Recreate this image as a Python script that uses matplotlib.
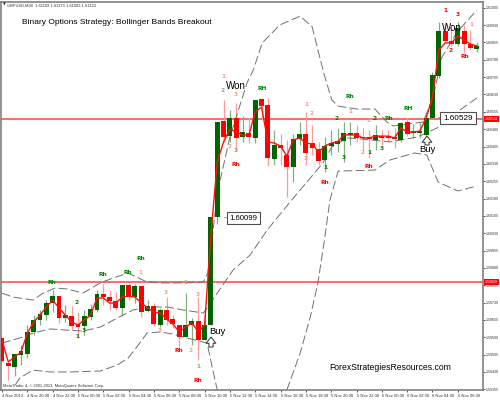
import matplotlib
matplotlib.use("Agg")
import matplotlib.pyplot as plt

plt.rcParams["font.family"] = "Liberation Sans"

# candles, oldest first (M30 bars)
opens = [1.59577, 1.59469, 1.59451, 1.59503, 1.59508, 1.59603, 1.59655, 1.59676, 1.59728, 1.59758,
         1.59663, 1.59672, 1.59637, 1.59629, 1.59668, 1.59698, 1.59767, 1.59754, 1.59737, 1.59707,
         1.59806, 1.59754, 1.59802, 1.59694, 1.59715, 1.59633, 1.59698, 1.59659, 1.59633, 1.59581,
         1.59633, 1.59650, 1.59568, 1.59633, 1.60100, 1.60515, 1.60450, 1.60528, 1.60446, 1.60463,
         1.60442, 1.60611, 1.60585, 1.60351, 1.60412, 1.60368, 1.60316, 1.60437, 1.60459, 1.60420,
         1.60394, 1.60347, 1.60407, 1.60416, 1.60429, 1.60455, 1.60463, 1.60446, 1.60446, 1.60433,
         1.60450, 1.60450, 1.60446, 1.60433, 1.60511, 1.60463, 1.60463, 1.60455, 1.60528, 1.60710,
         1.60905, 1.60861, 1.60848, 1.60905, 1.60848, 1.60827]
closes = [1.59477, 1.59456, 1.59508, 1.59521, 1.59603, 1.59655, 1.59681, 1.59728, 1.59758, 1.59663,
          1.59676, 1.59629, 1.59624, 1.59672, 1.59702, 1.59767, 1.59754, 1.59737, 1.59707, 1.59806,
          1.59754, 1.59802, 1.59689, 1.59715, 1.59637, 1.59698, 1.59655, 1.59637, 1.59581, 1.59633,
          1.59650, 1.59568, 1.59633, 1.60100, 1.60511, 1.60446, 1.60528, 1.60442, 1.60468, 1.60446,
          1.60606, 1.60580, 1.60355, 1.60412, 1.60399, 1.60316, 1.60437, 1.60459, 1.60377, 1.60399,
          1.60342, 1.60407, 1.60420, 1.60429, 1.60463, 1.60463, 1.60442, 1.60442, 1.60437, 1.60455,
          1.60442, 1.60442, 1.60437, 1.60507, 1.60459, 1.60472, 1.60472, 1.60528, 1.60714, 1.60905,
          1.60861, 1.60848, 1.60918, 1.60848, 1.60831, 1.60840]
highs = [1.59577, 1.59469, 1.59508, 1.59547, 1.59633, 1.59676, 1.59698, 1.59741, 1.59784, 1.59758,
         1.59720, 1.59715, 1.59689, 1.59698, 1.59724, 1.59784, 1.59810, 1.59784, 1.59776, 1.59806,
         1.59815, 1.59810, 1.59802, 1.59741, 1.59728, 1.59707, 1.59754, 1.59676, 1.59633, 1.59771,
         1.59663, 1.59754, 1.59698, 1.60100, 1.60511, 1.60606, 1.60563, 1.60593, 1.60537, 1.60528,
         1.60606, 1.60615, 1.60615, 1.60476, 1.60459, 1.60433, 1.60459, 1.60511, 1.60554, 1.60498,
         1.60425, 1.60446, 1.60476, 1.60485, 1.60511, 1.60511, 1.60498, 1.60485, 1.60476, 1.60498,
         1.60476, 1.60476, 1.60485, 1.60511, 1.60528, 1.60502, 1.60511, 1.60537, 1.60727, 1.60944,
         1.60944, 1.60918, 1.60944, 1.60931, 1.60909, 1.60857]
lows = [1.59473, 1.59395, 1.59412, 1.59460, 1.59490, 1.59590, 1.59633, 1.59655, 1.59689, 1.59642,
        1.59646, 1.59611, 1.59577, 1.59590, 1.59655, 1.59689, 1.59720, 1.59698, 1.59698, 1.59672,
        1.59741, 1.59728, 1.59668, 1.59689, 1.59629, 1.59624, 1.59633, 1.59620, 1.59538, 1.59581,
        1.59547, 1.59482, 1.59568, 1.59633, 1.60070, 1.60425, 1.60425, 1.60390, 1.60425, 1.60420,
        1.60420, 1.60520, 1.60321, 1.60325, 1.60325, 1.60187, 1.60251, 1.60412, 1.60325, 1.60368,
        1.60325, 1.60295, 1.60368, 1.60381, 1.60338, 1.60412, 1.60425, 1.60390, 1.60355, 1.60390,
        1.60412, 1.60425, 1.60399, 1.60425, 1.60450, 1.60442, 1.60442, 1.60442, 1.60528, 1.60701,
        1.60857, 1.60840, 1.60840, 1.60810, 1.60822, 1.60814]
# red moving average
ma = [1.59568, 1.59473, 1.59495, 1.59516, 1.59598, 1.59646, 1.59676, 1.59711, 1.59741, 1.59707,
      1.59676, 1.59646, 1.59633, 1.59655, 1.59676, 1.59750, 1.59750, 1.59728, 1.59728, 1.59754,
      1.59758, 1.59754, 1.59728, 1.59707, 1.59689, 1.59685, 1.59659, 1.59637, 1.59603, 1.59624,
      1.59642, 1.59603, 1.59633, 1.60022, 1.60338, 1.60425, 1.60481, 1.60468, 1.60455, 1.60455,
      1.60554, 1.60576, 1.60425, 1.60420, 1.60407, 1.60364, 1.60433, 1.60442, 1.60420, 1.60416,
      1.60381, 1.60407, 1.60420, 1.60425, 1.60455, 1.60455, 1.60455, 1.60442, 1.60442, 1.60450,
      1.60450, 1.60450, 1.60442, 1.60485, 1.60468, 1.60468, 1.60472, 1.60528, 1.60619, 1.60822,
      1.60853, 1.60853, 1.60883, 1.60866, 1.60848, 1.60840]

# bollinger bands, read at the bends only
upper_i = [0, 1.7, 4.9, 6.5, 8.4, 10.3, 12.8, 15.5, 17.5, 19.9, 22.9, 25, 28.9, 31.8, 32.5, 33.3, 34, 36,
           38.7, 39.7, 41.1, 43.9, 47.1, 49, 49.9, 51, 52.1, 53.1, 56.1, 58.9, 60.8, 61.8, 64, 66.5,
           68.1, 69.5, 71.9, 75]
upper_p = [1.59771, 1.59754, 1.59741, 1.59771, 1.59793, 1.59789, 1.59771, 1.59815, 1.59836, 1.59858,
           1.59819, 1.59815, 1.59815, 1.59819, 1.59858, 1.60031, 1.60204, 1.60446, 1.60680, 1.60736,
           1.60853, 1.60931, 1.60969, 1.60922, 1.60822, 1.60706, 1.60606, 1.60580, 1.60567, 1.60567,
           1.60511, 1.60494, 1.60502, 1.60511, 1.60619, 1.60792, 1.60900, 1.60995]
middle_i = [0, 2.8, 4.9, 7.6, 10.3, 12.8, 15.5, 18.2, 20.7, 23.4, 26.1, 28.6, 31.8, 32.5, 34, 36.5, 39.2,
            41.9, 45.5, 48.7, 50.7, 52.1, 54.5, 57, 61.3, 65.6, 68.7, 72.8, 75]
middle_p = [1.59555, 1.59577, 1.59598, 1.59616, 1.59611, 1.59607, 1.59624, 1.59663, 1.59698, 1.59711,
            1.59711, 1.59698, 1.59685, 1.59711, 1.59771, 1.59871, 1.59936, 1.60044, 1.60165, 1.60269,
            1.60334, 1.60403, 1.60442, 1.60437, 1.60425, 1.60446, 1.60485, 1.60572, 1.60615]
lower_i = [2.1, 2.8, 4.9, 7.6, 10.7, 15.5, 18.2, 19.9, 21.3, 22.9, 25, 27, 29.2, 32.4, 33.3, 34, 39.2, 45,
           47.1, 48.7, 49.9, 51, 51.8, 53.1, 58.9, 61.3, 65.2, 67.1, 68.9, 72, 75]
lower_p = [1.59374, 1.59404, 1.59438, 1.59430, 1.59430, 1.59434, 1.59460, 1.59490, 1.59538, 1.59598,
           1.59603, 1.59594, 1.59577, 1.59555, 1.59438, 1.59352, 1.59006, 1.59352, 1.59512, 1.59668,
           1.59815, 1.60014, 1.60174, 1.60299, 1.60303, 1.60347, 1.60377, 1.60368, 1.60251, 1.60213,
           1.60234]

red_levels = [1.60524, 1.59819]
price_ticks = [1.61005, 1.60930, 1.60855, 1.60780, 1.60705, 1.60630, 1.60555, 1.60480, 1.60405, 1.60330,
               1.60255, 1.60180, 1.60105, 1.60030, 1.59955, 1.59880, 1.59805, 1.59730, 1.59655, 1.59580,
               1.59505, 1.59430, 1.59355]
time_labels = ["4 Nov 2013", "4 Nov 20:30", "4 Nov 22:30", "5 Nov 00:30", "5 Nov 02:30", "5 Nov 04:30",
               "5 Nov 06:30", "5 Nov 08:30", "5 Nov 10:30", "5 Nov 12:30", "5 Nov 14:30", "5 Nov 16:30",
               "5 Nov 18:30", "5 Nov 20:30", "5 Nov 22:30", "6 Nov 00:30", "6 Nov 02:30", "6 Nov 04:30",
               "6 Nov 06:30"]

SALMON = "#f0a080"
LGREEN = "#80b080"
RED = "#ff0000"
DGREEN = "#008000"
# little signal labels: text, x px, y px, colour
signals = [("1", 223, 76, SALMON), ("2", 223, 90, LGREEN), ("3", 236, 94, SALMON), ("2", 230, 146, SALMON),
           ("3", 236, 150, LGREEN), ("Rh", 236, 165, RED), ("RH", 262, 88, DGREEN), ("Rh", 350, 96, DGREEN),
           ("1", 350, 111, SALMON), ("1", 306, 105, SALMON), ("2", 312, 114, SALMON), ("2", 337, 119, DGREEN),
           ("2", 369, 120, SALMON), ("2", 375, 118, DGREEN), ("Rh", 389, 118, DGREEN), ("RH", 408, 108, DGREEN),
           ("2", 306, 159, SALMON), ("2", 363, 152, SALMON), ("1", 369, 152, DGREEN), ("3", 382, 148, DGREEN),
           ("3", 344, 157, DGREEN), ("1", 325, 168, DGREEN), ("Rh", 325, 183, RED), ("Rh", 369, 167, RED),
           ("1", 445, 11, RED), ("3", 458, 14, RED), ("1", 471, 25, SALMON), ("2", 451, 50, RED),
           ("Rh", 465, 57, RED), ("Rh", 141, 258, DGREEN), ("Rh", 103, 274, DGREEN), ("Rh", 128, 273, DGREEN),
           ("Rh", 52, 282, DGREEN), ("1", 140, 272, SALMON), ("2", 77, 302, DGREEN), ("3", 166, 292, SALMON),
           ("3", 198, 294, SALMON), ("1", 185, 282, SALMON), ("3", 84, 330, DGREEN), ("1", 77, 337, DGREEN),
           ("3", 160, 330, SALMON), ("Rh", 179, 351, RED), ("2", 191, 350, SALMON), ("1", 198, 366, LGREEN),
           ("Rh", 198, 380, RED)]

W, H = 500, 400
fig = plt.figure(figsize=(W / 100, H / 100), dpi=100)
ax = fig.add_axes([1 / W, 1 - 390 / H, 481.5 / W, 388 / H])


def px_text(x, y, s, **kw):
    # overlay text placed in image pixels
    kw.setdefault("ha", "center")
    kw.setdefault("va", "center")
    return fig.text(x / W, 1 - y / H, s, **kw)


def up_arrow(x, y_top, y_bottom):
    # hollow arrow under/over the Buy labels
    ax.annotate("", xy=(x, H - y_top), xytext=(x, H - y_bottom), xycoords="figure pixels",
                textcoords="figure pixels",
                arrowprops=dict(arrowstyle="simple,head_length=0.45,head_width=0.7,tail_width=0.3",
                                fc="white", ec="#303030", lw=0.7, shrinkA=0, shrinkB=0))


# candles
for i in range(len(opens)):
    up = closes[i] >= opens[i]
    ax.plot([i, i], [lows[i], highs[i]], color="#7fb27f" if up else "#ff9a9a", lw=0.9, zorder=2,
            solid_capstyle="butt")
    ax.bar(i, abs(closes[i] - opens[i]), bottom=min(opens[i], closes[i]), width=0.78,
           color="#006400" if up else "#ff0000", linewidth=0, zorder=3)

ax.plot(range(len(ma)), ma, color="#ff1010", lw=1.0, zorder=4)
for xs, ys in [(upper_i, upper_p), (middle_i, middle_p), (lower_i, lower_p)]:
    ax.plot(xs, ys, color="#707070", lw=0.7, dashes=(9, 3.5), zorder=2)
for level in red_levels:
    ax.axhline(level, color="#ff6a6a", lw=1.4, zorder=1)

ax.set_xlim(-0.16, 75.9)
ax.set_ylim(1.59352, 1.61030)
for side in ax.spines:
    ax.spines[side].set_color("#808080")
    ax.spines[side].set_linewidth(1.2)
ax.yaxis.tick_right()
ax.set_yticks(price_ticks)
ax.set_yticklabels(["%.5f" % p for p in price_ticks])
ax.set_xticks(range(0, 4 * len(time_labels), 4))
ax.set_xticklabels(time_labels, ha="left")
ax.tick_params(axis="y", length=1.5, width=0.6, pad=1, labelsize=2.6, colors="#303030")
ax.tick_params(axis="x", length=1.5, width=0.6, pad=1.2, labelsize=3.0, colors="#303030")

for s, x, y, c in signals:
    px_text(x, y, s, color=c, fontsize=4.2, fontweight="bold", family="DejaVu Sans")

px_text(22, 22, "Binary Options Strategy: Bollinger Bands Breakout", ha="left", fontsize=6.0, color="black")
px_text(329, 368, "ForexStrategiesResources.com", ha="left", fontsize=6.2, color="black")
px_text(236, 86, "Won", fontsize=7)
px_text(452, 28, "Won", fontsize=7)
px_text(217, 331, "Buy", fontsize=6.8)
px_text(427, 149, "Buy", fontsize=6.8)
up_arrow(211, 337, 347)
up_arrow(427, 136, 145)

box = dict(boxstyle="square,pad=0.35", fc="white", ec="#505050", lw=0.8)
px_text(243.5, 218, "1.60099", fontsize=5.6, bbox=box)
px_text(458, 118, "1.60529", fontsize=5.9, bbox=box)
px_text(225, 218, "-", fontsize=6, color="#404040")
px_text(439, 118, "-", fontsize=6, color="#404040")

px_text(3, 5, "\u25bc", ha="left", fontsize=2.6, color="#303030", family="DejaVu Sans")
px_text(7, 5.5, "GBPUSD,M30  1.61109 1.61173 1.61093 1.61123", ha="left", fontsize=2.9, color="#303030")
px_text(3, 386, "MetaTrader 4, \u00a9 2001-2013, MetaQuotes Software Corp.", ha="left", fontsize=2.9, color="#303030")

# price tags on the axis
tag = dict(boxstyle="square,pad=0.4", fc="#ff0000", ec="none")
px_text(491.5, 119, "1.60524", fontsize=2.6, color="white", bbox=tag)
px_text(491.5, 282, "1.59819", fontsize=2.6, color="white", bbox=tag)

fig.savefig("out.png", dpi=100)
